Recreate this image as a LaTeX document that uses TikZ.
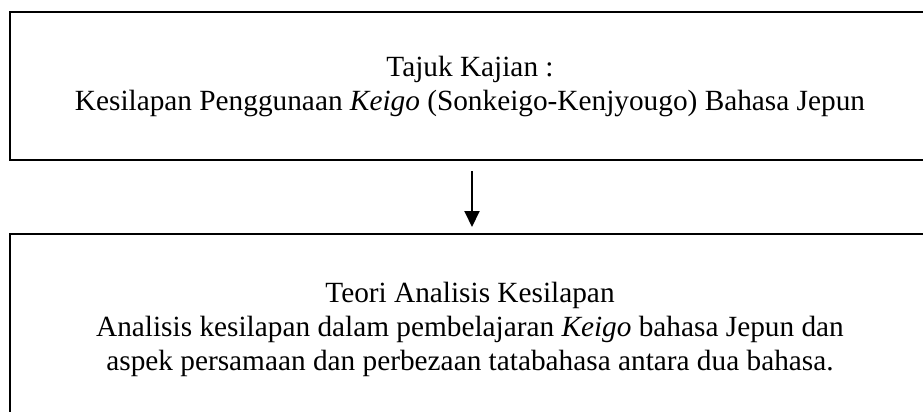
\documentclass[tikz,border=0pt]{standalone}
\usepackage{fontspec}
\setmainfont{Liberation Serif}
\usetikzlibrary{arrows.meta}
\begin{document}
\begin{tikzpicture}[x=1pt,y=-1pt,
  boxstyle/.style={draw=black,line width=2pt,inner sep=0pt},
  textstyle/.style={align=center,inner sep=0pt,anchor=base,
    font=\fontsize{29.3}{34}\selectfont},
  arrowstyle/.style={line width=2pt,-{Triangle[length=16pt,width=15pt]}}]
\useasboundingbox (0,0) rectangle (923,412);
\node[boxstyle,minimum width=920,minimum height=148] (top) at (470,86) {};
\node[boxstyle,minimum width=920,minimum height=186] (bot) at (470,327) {};
\node[textstyle] (toptext) at (470,110)
  {Tajuk Kajian :\\Kesilapan Penggunaan \textit{Keigo} (Sonkeigo-Kenjyougo) Bahasa Jepun};
\node[textstyle] (bottext) at (470,370)
  {Teori Analisis Kesilapan\\Analisis kesilapan dalam pembelajaran \textit{Keigo} bahasa Jepun dan\\aspek persamaan dan perbezaan tatabahasa antara dua bahasa.};
\draw[arrowstyle] ([xshift=2pt,yshift=-10pt]top.south) -- ([xshift=2pt,yshift=6pt]bot.north);
\end{tikzpicture}
\end{document}
